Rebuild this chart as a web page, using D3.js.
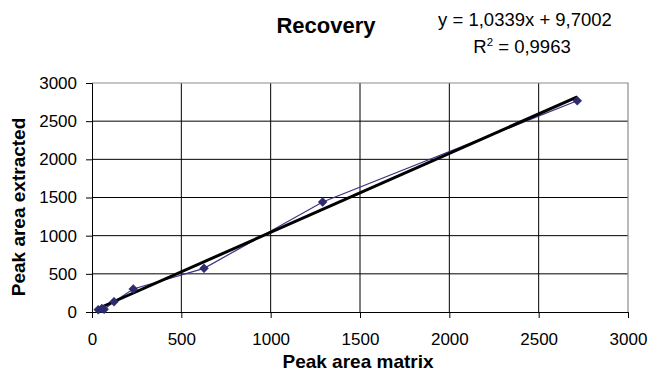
<!DOCTYPE html>
<html>
<head>
<meta charset="utf-8">
<script src="https://cdn.jsdelivr.net/npm/d3@7"></script>
<style>
  html, body { margin: 0; padding: 0; background: #fff; }
  svg { display: block; font-family: Arial, "Liberation Sans", sans-serif; }
</style>
</head>
<body>
<svg id="chart" width="649" height="380"></svg>
<script>
// Recovery: peak area in matrix vs. peak area after extraction
const matrixArea    = [35, 55, 68, 123, 231, 627, 1291, 2716];
const extractedArea = [30, 45, 35, 135, 301, 572, 1441, 2768];
const xTicks = [0, 500, 1000, 1500, 2000, 2500, 3000];
const yTicks = [0, 500, 1000, 1500, 2000, 2500, 3000];
const slope = 1.0339, intercept = 9.7002, rSquared = 0.9963;

const svg = d3.select("#chart");
const plot = { left: 92, right: 628, top: 83, bottom: 312 };

const x = d3.scaleLinear().domain([0, 3000]).range([plot.left, plot.right]);
const y = d3.scaleLinear().domain([0, 3000]).range([plot.bottom, plot.top]);

const fmt = v => String(v).replace(".", ",");

// gridlines
svg.append("g").selectAll("line").data(yTicks.slice(1, -1)).join("line")
  .attr("x1", plot.left).attr("x2", plot.right)
  .attr("y1", d => y(d)).attr("y2", d => y(d))
  .attr("stroke", "#000").attr("stroke-width", 1);
svg.append("g").selectAll("line").data(xTicks.slice(1, -1)).join("line")
  .attr("y1", plot.top).attr("y2", plot.bottom)
  .attr("x1", d => x(d)).attr("x2", d => x(d))
  .attr("stroke", "#000").attr("stroke-width", 1);

// plot area border (top and right)
svg.append("path")
  .attr("d", `M${plot.left},${plot.top}H${plot.right}V${plot.bottom}`)
  .attr("fill", "none").attr("stroke", "#8c8c8c").attr("stroke-width", 1.2);

// axes
const xAxis = svg.append("g").attr("transform", `translate(0,${plot.bottom})`)
  .call(d3.axisBottom(x).tickValues(xTicks).tickSize(6).tickPadding(15).tickFormat(d => d));
const yAxis = svg.append("g").attr("transform", `translate(${plot.left},0)`)
  .call(d3.axisLeft(y).tickValues(yTicks).tickSize(6).tickPadding(9).tickFormat(d => d));
[xAxis, yAxis].forEach(g => {
  g.select(".domain").attr("stroke", "#000").attr("stroke-width", 1);
  g.selectAll(".tick line").attr("stroke", "#000");
  g.selectAll(".tick text").attr("fill", "#000")
    .style("font-size", "17px").style("font-family", "Arial, 'Liberation Sans', sans-serif");
});

// data series line
const pts = matrixArea.map((m, i) => [m, extractedArea[i]]);
svg.append("path")
  .datum(pts)
  .attr("d", d3.line().x(d => x(d[0])).y(d => y(d[1])))
  .attr("fill", "none").attr("stroke", "#3a3486").attr("stroke-width", 1.2);

// linear trendline
const xMin = d3.min(matrixArea), xMax = d3.max(matrixArea);
svg.append("line")
  .attr("x1", x(xMin)).attr("y1", y(slope * xMin + intercept))
  .attr("x2", x(xMax)).attr("y2", y(slope * xMax + intercept))
  .attr("stroke", "#000").attr("stroke-width", 3);

// diamond markers
svg.append("g").selectAll("path").data(pts).join("path")
  .attr("transform", d => `translate(${x(d[0])},${y(d[1])})`)
  .attr("d", "M0,-4.5L4.5,0L0,4.5L-4.5,0Z")
  .attr("fill", "#2e2a6e").attr("stroke", "#2e2a6e").attr("stroke-width", 0.5);

// title
svg.append("text").attr("x", 326).attr("y", 33).attr("text-anchor", "middle")
  .style("font-size", "22px").style("font-weight", "bold").text("Recovery");

// trendline equation
svg.append("text").attr("x", 525).attr("y", 26).attr("text-anchor", "middle")
  .style("font-size", "18.5px")
  .text(`y = ${fmt(slope)}x + ${fmt(intercept)}`);
const r2 = svg.append("text").attr("x", 522).attr("y", 53).attr("text-anchor", "middle")
  .style("font-size", "18.5px");
r2.append("tspan").text("R");
r2.append("tspan").attr("dy", -7).style("font-size", "11.5px").text("2");
r2.append("tspan").attr("dy", 7).text(` = ${fmt(rSquared)}`);

// axis titles
svg.append("text").attr("x", 358).attr("y", 368).attr("text-anchor", "middle")
  .style("font-size", "19px").style("font-weight", "bold").text("Peak area matrix");
svg.append("text").attr("transform", "translate(25,207) rotate(-90)").attr("text-anchor", "middle")
  .style("font-size", "19px").style("font-weight", "bold").text("Peak area extracted");
</script>
</body>
</html>
